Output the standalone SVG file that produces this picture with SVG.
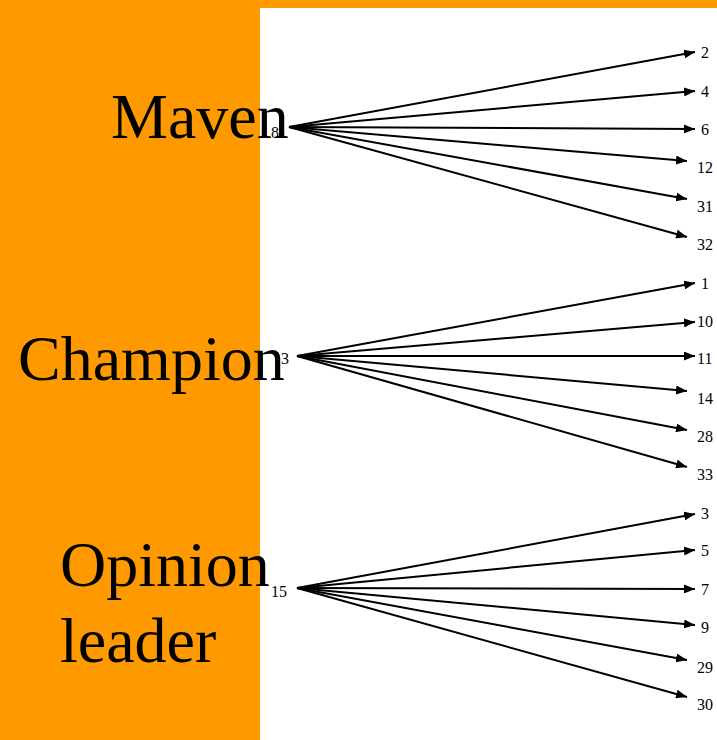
<svg xmlns="http://www.w3.org/2000/svg" width="717" height="740" viewBox="0 0 717 740">
<style>
.big{font-family:"Liberation Serif","Times New Roman",serif;font-size:64px;fill:#000}
.num{font-family:"Liberation Serif","Times New Roman",serif;font-size:16px;fill:#000}
.e{stroke:#000;stroke-width:2;fill:none;marker-end:url(#ah)}
</style>
<defs>
<marker id="ah" viewBox="0 0 11 9" refX="11" refY="4.5" markerWidth="11" markerHeight="9" markerUnits="userSpaceOnUse" orient="auto">
<path d="M0,0 L11,4.5 L0,9 Z" fill="#000"/>
</marker>
</defs>
<rect x="0" y="0" width="717" height="740" fill="#fff"/>
<rect x="0" y="0" width="717" height="8" fill="#ff9900"/>
<rect x="0" y="0" width="260" height="740" fill="#ff9900"/>
<g id="maven"><text class="big" x="111" y="138">Maven</text><text class="num" x="271" y="138">8</text></g>
<g id="champion"><text class="big" x="18" y="380">Champion</text><text class="num" x="281" y="364">3</text></g>
<g id="opinion"><text class="big" x="60" y="586">Opinion</text><text class="big" x="60" y="662">leader</text><text class="num" x="271" y="597">15</text></g>
<g id="targets">
<text class="num" x="701" y="58">2</text>
<text class="num" x="701" y="97">4</text>
<text class="num" x="701" y="135">6</text>
<text class="num" x="697" y="173">12</text>
<text class="num" x="697" y="212">31</text>
<text class="num" x="697" y="250">32</text>
<text class="num" x="701" y="289">1</text>
<text class="num" x="697" y="327">10</text>
<text class="num" x="697" y="364">11</text>
<text class="num" x="697" y="404">14</text>
<text class="num" x="697" y="442">28</text>
<text class="num" x="697" y="480">33</text>
<text class="num" x="701" y="519">3</text>
<text class="num" x="701" y="556">5</text>
<text class="num" x="701" y="595">7</text>
<text class="num" x="701" y="633">9</text>
<text class="num" x="697" y="673">29</text>
<text class="num" x="697" y="710">30</text>
</g>
<g id="connectors">
<path class="e" d="M289,127 L695,52"/>
<path class="e" d="M289,127 L695,91"/>
<path class="e" d="M289,127 L695,129"/>
<path class="e" d="M289,127 L687,161"/>
<path class="e" d="M289,127 L687,199"/>
<path class="e" d="M289,127 L687,237"/>
<path class="e" d="M297,356 L695,283"/>
<path class="e" d="M297,356 L695,322"/>
<path class="e" d="M297,356 L695,356"/>
<path class="e" d="M297,356 L687,391"/>
<path class="e" d="M297,356 L687,430"/>
<path class="e" d="M297,356 L687,467"/>
<path class="e" d="M297,588 L695,514"/>
<path class="e" d="M297,588 L695,550"/>
<path class="e" d="M297,588 L695,589"/>
<path class="e" d="M297,588 L695,625"/>
<path class="e" d="M297,588 L687,660"/>
<path class="e" d="M297,588 L687,697"/>
</g>
</svg>
